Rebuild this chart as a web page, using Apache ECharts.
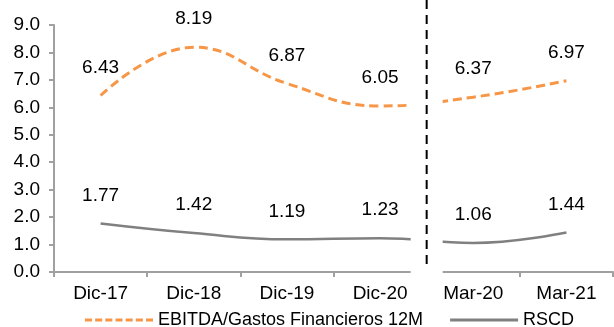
<!DOCTYPE html>
<html>
<head>
<meta charset="utf-8">
<script src="https://cdn.jsdelivr.net/npm/echarts@6/dist/echarts.min.js"></script>
<style>
  html, body { margin: 0; padding: 0; background: #ffffff; }
  #chart { width: 614px; height: 327px; }
</style>
</head>
<body>
<div id="chart"></div>
<script>
// Periods: four year-end closes, then two quarterly closes
const categories = ['Dic-17', 'Dic-18', 'Dic-19', 'Dic-20', 'Mar-20', 'Mar-21'];
// EBITDA / financial expenses, trailing 12 months
const ebitdaCoverage = [6.43, 8.19, 6.87, 6.05, 6.37, 6.97];
// RSCD (debt service coverage)
const rscd = [1.77, 1.42, 1.19, 1.23, 1.06, 1.44];
// Value axis range
const yMin = 0;
const yMax = 9;
const yStep = 1;
// The annual block ends after this many categories
const annualCount = 4;

const FONT = '"Liberation Sans", Arial, sans-serif';
const FONT_SIZE = 19;
const ORANGE = '#F79646';
const GREY = '#808080';
const AXIS = '#A0A0A0';

// Legend keys: a dashed stroke and a solid stroke
const DASH_ICON = 'path://M0,0h7v3h-7z M10.17,0h7v3h-7z M20.33,0h7v3h-7z M30.5,0h7v3h-7z M40.67,0h7v3h-7z M50.83,0h7v3h-7z M61,0h7v3h-7z';
const SOLID_ICON = 'path://M0,0h68v3h-68z';

const chart = echarts.init(document.getElementById('chart'), null, { renderer: 'canvas' });

const labelStyle = {
  show: true,
  position: 'top',
  distance: 18,
  color: '#000',
  fontFamily: FONT,
  fontSize: FONT_SIZE,
  formatter: p => Number(p.value).toFixed(2)
};

chart.setOption({
  animation: false,
  grid: { left: 54, right: 1, top: 25, bottom: 55, containLabel: false },
  xAxis: {
    type: 'category',
    data: categories,
    boundaryGap: true,
    axisLine: { lineStyle: { color: AXIS, width: 2 } },
    axisTick: { show: true, length: 5, lineStyle: { color: AXIS, width: 2 } },
    axisLabel: { color: '#000', fontFamily: FONT, fontSize: FONT_SIZE, margin: 12 }
  },
  yAxis: {
    type: 'value',
    min: yMin,
    max: yMax,
    interval: yStep,
    splitLine: { show: false },
    axisLine: { show: true, lineStyle: { color: AXIS, width: 2 } },
    axisTick: { show: true, length: 5, lineStyle: { color: AXIS, width: 2 } },
    axisLabel: {
      color: '#000', fontFamily: FONT, fontSize: FONT_SIZE, margin: 14,
      formatter: v => v.toFixed(1)
    }
  },
  legend: {
    left: 80,
    top: 306,
    itemWidth: 68,
    itemHeight: 3,
    itemGap: 27,
    textStyle: { color: '#000', fontFamily: FONT, fontSize: 18 },
    data: [
      { name: 'EBITDA/Gastos Financieros 12M', icon: DASH_ICON, itemStyle: { color: ORANGE } },
      { name: 'RSCD', icon: SOLID_ICON, itemStyle: { color: GREY } }
    ]
  },
  series: [
    {
      name: 'EBITDA/Gastos Financieros 12M',
      type: 'line',
      data: ebitdaCoverage,
      smooth: 0.45,
      symbol: 'circle',
      symbolSize: 1,
      showSymbol: true,
      lineStyle: { color: ORANGE, width: 3, type: [9, 5] },
      itemStyle: { color: 'rgba(0,0,0,0)', borderWidth: 0 },
      label: labelStyle,
      z: 3
    },
    {
      name: 'RSCD',
      type: 'line',
      data: rscd,
      smooth: 0.45,
      symbol: 'circle',
      symbolSize: 1,
      showSymbol: true,
      lineStyle: { color: GREY, width: 2.5 },
      itemStyle: { color: 'rgba(0,0,0,0)', borderWidth: 0 },
      label: labelStyle,
      z: 2
    }
  ]
});

// Break between the annual and quarterly blocks: a blank band over the
// lines and the axis, with a dashed divider in its middle.
const xa = chart.convertToPixel({ xAxisIndex: 0 }, annualCount - 1);
const xb = chart.convertToPixel({ xAxisIndex: 0 }, annualCount);
const xSplit = (xa + xb) / 2;
const yTop = chart.convertToPixel({ yAxisIndex: 0 }, yMax);
const yBase = chart.convertToPixel({ yAxisIndex: 0 }, yMin);
const half = 16;

chart.setOption({
  graphic: [
    {
      type: 'rect',
      z: 100,
      shape: { x: xSplit - half, y: yTop - 10, width: half * 2, height: yBase - yTop + 18 },
      style: { fill: '#ffffff' }
    },
    {
      type: 'line',
      z: 101,
      shape: { x1: xSplit, y1: 0, x2: xSplit, y2: yBase - 6 },
      style: { stroke: '#000', lineWidth: 2, lineDash: [9, 6] }
    }
  ]
});
</script>
</body>
</html>
